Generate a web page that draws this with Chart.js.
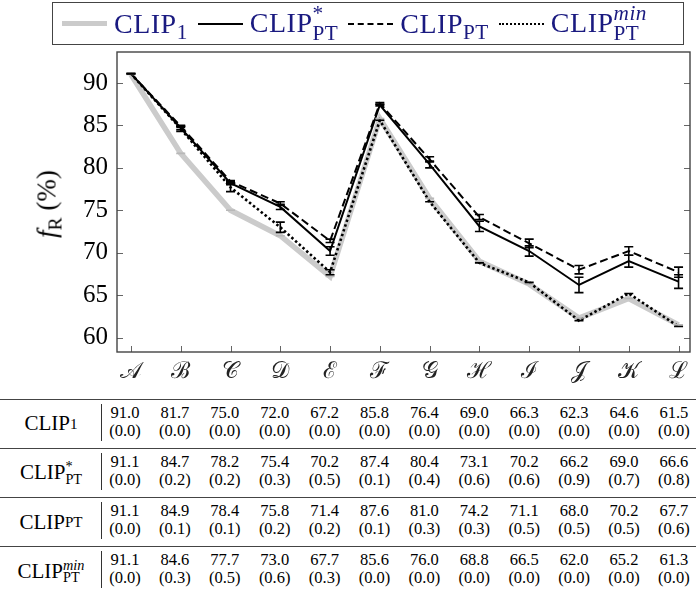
<!DOCTYPE html>
<html>
<head>
<meta charset="utf-8">
<script src="https://cdn.jsdelivr.net/npm/chart.js@4.4.0/dist/chart.umd.min.js"></script>
<style>
  body { margin: 0; background: #fff; }
  #wrap { position: relative; width: 696px; height: 594px; overflow: hidden; font-family: "Liberation Serif", "Times New Roman", Tinos, "DejaVu Serif", serif; color: #000; }
  #chart { position: absolute; left: 0; top: 0; }
  #legend { position: absolute; left: 52px; top: 2px; width: 621px; height: 41px; border: 1.5px solid #444; display: flex; align-items: center; padding-left: 9px; box-sizing: content-box; color: #1a1a80; font-size: 28px; letter-spacing: 0.5px; }
  .sample { width: 45px; height: 0; margin-right: 7px; flex: none; }
  .item { margin-right: 10px; white-space: nowrap; }
  sub { font-size: 0.72em; vertical-align: -0.3em; line-height: 0; }
  #legend sub, #legend .stack { font-size: 0.76em; }
  .stack { display: inline-block; font-size: 0.68em; line-height: 0.9; vertical-align: -0.35em; text-align: left; }
  .stack i, .stack span { display: block; }
  #ytitle { position: absolute; left: 47px; top: 204px; transform: translate(-50%, -50%) rotate(-90deg); font-size: 27px; white-space: nowrap; }
  #table { position: absolute; left: 0; top: 0; width: 696px; }
  .row { position: absolute; left: 0; width: 696px; height: 49px; border-top: 1.3px solid #444; }
  .rlabel { position: absolute; left: 0; width: 102px; top: 0; height: 48px; display: flex; align-items: center; justify-content: center; font-size: 21px; }
  .vbar { position: absolute; left: 101px; top: 4px; height: 37px; border-left: 1.2px solid #333; }
  .cell { position: absolute; top: 4px; width: 50px; text-align: center; font-size: 16.5px; line-height: 18px; }
</style>
</head>
<body>
<div id="wrap">
  <canvas id="chart" width="696" height="396"></canvas>
  <div id="legend"></div>
  <div id="ytitle"><i>f</i><sub>R</sub> (%)</div>
  <div id="table"></div>
</div>
<script>
const categories = ['𝒜', 'ℬ', '𝒞', '𝒟', 'ℰ', 'ℱ', '𝒢', 'ℋ', 'ℐ', '𝒥', '𝒦', 'ℒ'];
const yTicks = [60, 65, 70, 75, 80, 85, 90];

const clip1 = [91.0, 81.7, 75.0, 72.0, 67.2, 85.8, 76.4, 69.0, 66.3, 62.3, 64.6, 61.5];
const clip1Std = [0.0, 0.0, 0.0, 0.0, 0.0, 0.0, 0.0, 0.0, 0.0, 0.0, 0.0, 0.0];
const clipStar = [91.1, 84.7, 78.2, 75.4, 70.2, 87.4, 80.4, 73.1, 70.2, 66.2, 69.0, 66.6];
const clipStarStd = [0.0, 0.2, 0.2, 0.3, 0.5, 0.1, 0.4, 0.6, 0.6, 0.9, 0.7, 0.8];
const clipPt = [91.1, 84.9, 78.4, 75.8, 71.4, 87.6, 81.0, 74.2, 71.1, 68.0, 70.2, 67.7];
const clipPtStd = [0.0, 0.1, 0.1, 0.2, 0.2, 0.1, 0.3, 0.3, 0.5, 0.5, 0.5, 0.6];
const clipMin = [91.1, 84.6, 77.7, 73.0, 67.7, 85.6, 76.0, 68.8, 66.5, 62.0, 65.2, 61.3];
const clipMinStd = [0.0, 0.3, 0.5, 0.6, 0.3, 0.0, 0.0, 0.0, 0.0, 0.0, 0.0, 0.0];

const seriesNames = [
  'CLIP<sub>1</sub>',
  'CLIP<span class="stack"><span>*</span><span>PT</span></span>',
  'CLIP<sub>PT</sub>',
  'CLIP<span class="stack"><i>min</i><span>PT</span></span>'
];

const serif = '"Liberation Serif", "Times New Roman", Tinos, "DejaVu Serif", serif';

const styles = [
  { color: '#cbcbcb', width: 5.5, dash: [], css: '5px solid #cbcbcb' },
  { color: '#000', width: 2, dash: [], css: '2px solid #000' },
  { color: '#000', width: 2, dash: [8, 4], css: '2px dashed #000' },
  { color: '#000', width: 2.6, dash: [2.5, 2.5], css: '2.5px dotted #000' }
];

const values = [clip1, clipStar, clipPt, clipMin];
const stds = [clip1Std, clipStarStd, clipPtStd, clipMinStd];

// legend (html so the sub/superscripts stay real text)
const legend = document.getElementById('legend');
seriesNames.forEach((name, i) => {
  const s = document.createElement('div');
  s.className = 'sample';
  s.style.borderTop = styles[i].css;
  legend.appendChild(s);
  const t = document.createElement('div');
  t.className = 'item';
  t.innerHTML = name;
  legend.appendChild(t);
});

// table under the chart
const table = document.getElementById('table');
seriesNames.forEach((name, r) => {
  const row = document.createElement('div');
  row.className = 'row';
  row.style.top = (398.5 + r * 49.3) + 'px';
  row.innerHTML = '<div class="rlabel">' + name + '</div><div class="vbar"></div>';
  values[r].forEach((v, c) => {
    const cell = document.createElement('div');
    cell.className = 'cell';
    cell.style.left = (100 + c * 49.9) + 'px';
    cell.innerHTML = v.toFixed(1) + '<br>(' + stds[r][c].toFixed(1) + ')';
    row.appendChild(cell);
  });
  table.appendChild(row);
});

const frame = {
  id: 'frame',
  afterDatasetsDraw(chart) {
    const { ctx, chartArea: a, scales: { x, y } } = chart;
    ctx.save();
    // error bars
    chart.data.datasets.forEach((ds, i) => {
      ctx.strokeStyle = i === 0 ? '#b8b8b8' : '#000';
      ctx.lineWidth = 1.6;
      ctx.setLineDash([]);
      ds.data.forEach((p, k) => {
        const e = stds[i][k];
        const px = x.getPixelForValue(p.x);
        const top = y.getPixelForValue(p.y + e);
        const bot = y.getPixelForValue(p.y - e);
        ctx.beginPath();
        ctx.moveTo(px, top); ctx.lineTo(px, bot);
        ctx.moveTo(px - 4.5, top); ctx.lineTo(px + 4.5, top);
        ctx.moveTo(px - 4.5, bot); ctx.lineTo(px + 4.5, bot);
        ctx.stroke();
      });
    });
    // inner tick marks
    ctx.strokeStyle = '#666';
    ctx.lineWidth = 1;
    ctx.beginPath();
    y.ticks.forEach(t => {
      const py = Math.round(y.getPixelForValue(t.value)) + 0.5;
      ctx.moveTo(a.left, py); ctx.lineTo(a.left + 6, py);
      ctx.moveTo(a.right, py); ctx.lineTo(a.right - 6, py);
    });
    x.ticks.forEach(t => {
      const px = Math.round(x.getPixelForValue(t.value)) + 0.5;
      ctx.moveTo(px, a.bottom); ctx.lineTo(px, a.bottom - 6);
    });
    ctx.stroke();
    // frame
    ctx.strokeStyle = '#444';
    ctx.lineWidth = 1.4;
    ctx.strokeRect(a.left, a.top, a.right - a.left, a.bottom - a.top);
    ctx.restore();
  }
};

new Chart(document.getElementById('chart'), {
  type: 'line',
  plugins: [frame],
  data: {
    datasets: values.map((vals, i) => ({
      data: vals.map((v, k) => ({ x: k, y: v })),
      borderColor: styles[i].color,
      borderWidth: styles[i].width,
      borderDash: styles[i].dash,
      order: 4 - i,
      pointRadius: 0,
      tension: 0,
      fill: false
    }))
  },
  options: {
    responsive: false,
    animation: false,
    layout: { padding: { top: 52, right: 6, left: 0, bottom: 0 } },
    plugins: { legend: { display: false }, tooltip: { enabled: false } },
    scales: {
      x: {
        type: 'linear',
        min: -0.28,
        max: 11.23,
        grid: { display: false, drawTicks: false },
        border: { display: false },
        afterBuildTicks: s => { s.ticks = categories.map((c, i) => ({ value: i })); },
        afterFit: s => { s.height = 44; },
        ticks: {
          autoSkip: false,
          maxRotation: 0,
          padding: 6,
          color: '#222',
          font: { family: serif, size: 23 },
          callback: v => categories[v]
        }
      },
      y: {
        min: 58.3,
        max: 93.65,
        grid: { display: false, drawTicks: false },
        border: { display: false },
        afterBuildTicks: s => { s.ticks = yTicks.map(v => ({ value: v })); },
        afterFit: s => { s.width = 117; },
        ticks: {
          padding: 9,
          color: '#000',
          font: { family: serif, size: 25 }
        }
      }
    }
  }
});
</script>
</body>
</html>
